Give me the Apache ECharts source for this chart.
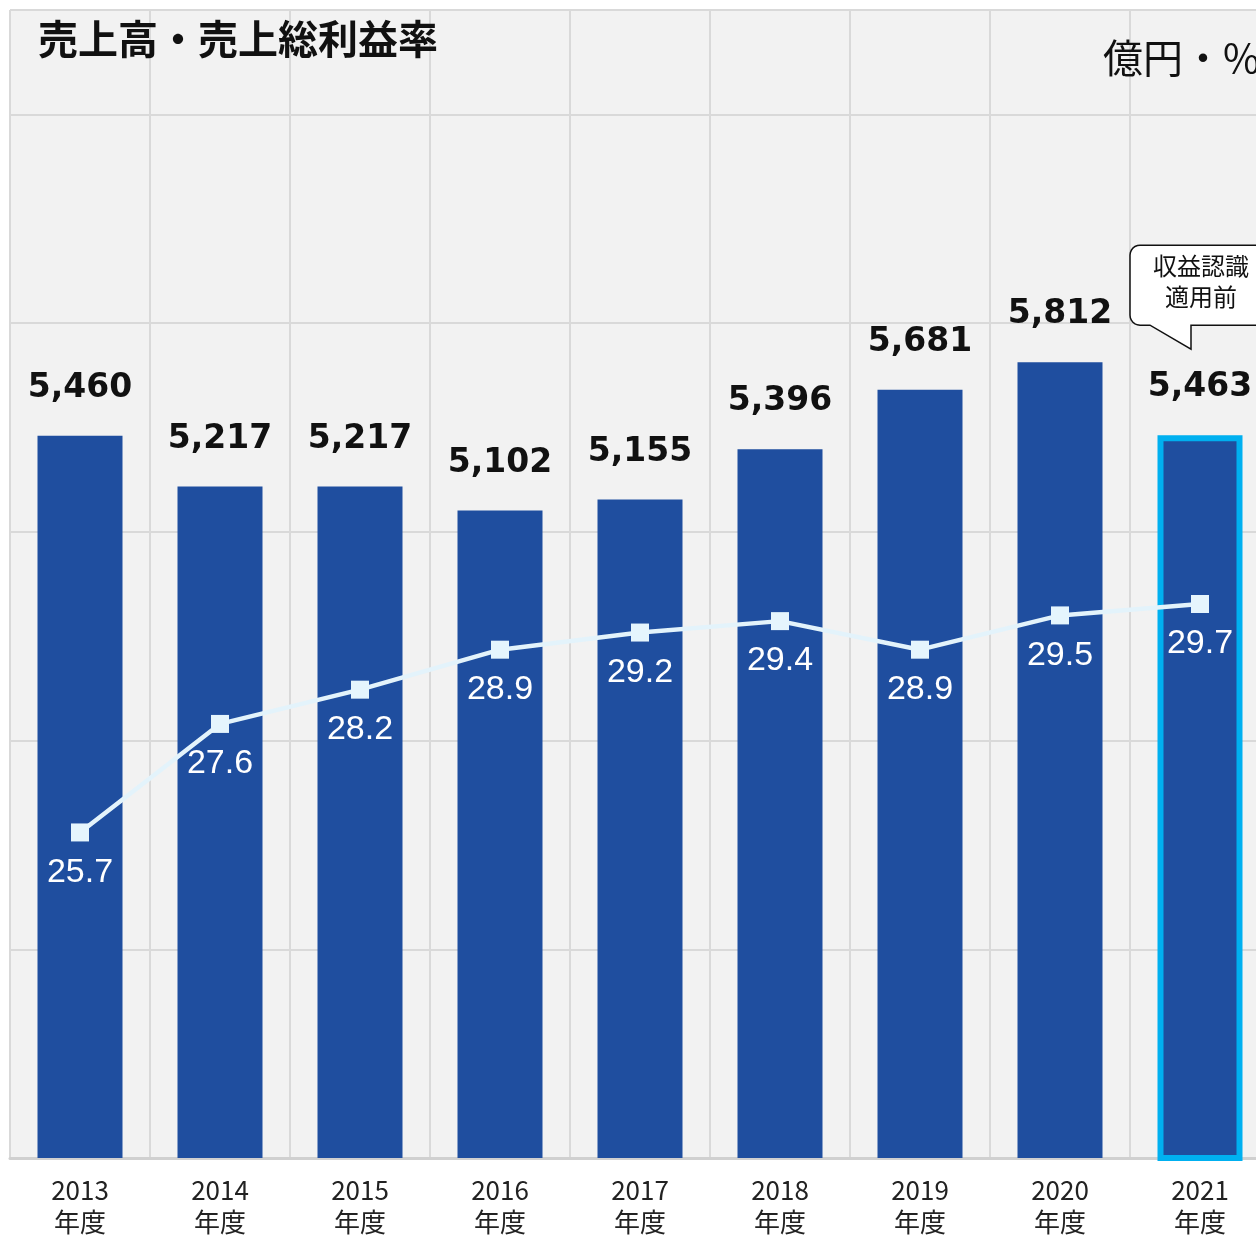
<!DOCTYPE html>
<html><head><meta charset="utf-8">
<script src="https://cdn.jsdelivr.net/npm/echarts@6/dist/echarts.min.js"></script>
<style>html,body{margin:0;padding:0;background:#fff}#c{width:1256px;height:1235px}</style>
</head><body><div id="c"></div>
<script>
const years = ['2013','2014','2015','2016','2017','2018','2019','2020','2021'];
const yearSuffix = '年度';
const sales = [5460, 5217, 5217, 5102, 5155, 5396, 5681, 5812, 5463];
const grossMargin = [25.7, 27.6, 28.2, 28.9, 29.2, 29.4, 28.9, 29.5, 29.7];
const highlightIndex = 8;
const titleText = '売上高・売上総利益率';
const unitText = '億円・%';
const calloutText = '収益認識\n適用前';

const JP = '"Noto Sans CJK JP", "Noto Sans", sans-serif';
const chart = echarts.init(document.getElementById('c'), null, {renderer: 'canvas'});

const option = {
  animation: false,
  grid: {left: 10, top: 10, right: -14, bottom: 77, show: true, backgroundColor: '#f2f2f2', borderWidth: 0,
         outerBoundsMode: 'none', containLabel: false},
  xAxis: {
    type: 'category', data: years, boundaryGap: true,
    axisLine: {lineStyle: {color: '#d0d0d0', width: 3}},
    axisTick: {show: false},
    splitLine: {show: true, interval: 0, lineStyle: {color: '#d9d9d9', width: 2}},
    axisLabel: {
      interval: 0, margin: 16, color: '#222', fontSize: 26, lineHeight: 32, fontFamily: JP,
      formatter: v => v + '\n' + yearSuffix
    }
  },
  yAxis: [
    {type: 'value', min: 2000, max: 7500, interval: 1000,
     axisLabel: {show: false}, axisLine: {show: false}, axisTick: {show: false},
     splitLine: {show: true, lineStyle: {color: '#d9d9d9', width: 2}}},
    {type: 'value', min: 20, max: 40.1, show: false, splitLine: {show: false}}
  ],
  series: [
    {
      type: 'bar', yAxisIndex: 0, barWidth: 85,
      itemStyle: {color: '#1f4e9f'},
      data: sales.map((v, i) => i === highlightIndex
        ? {value: v, itemStyle: {borderColor: '#00b0f0', borderWidth: 6}}
        : v),
      label: {
        show: true, position: 'top', distance: 31,
        color: '#111', fontSize: 33, fontWeight: 'bold', fontFamily: '"DejaVu Sans", Verdana, sans-serif',
        formatter: p => Number(p.value).toLocaleString('en-US')
      },
      z: 2
    },
    {
      type: 'line', yAxisIndex: 1, data: grossMargin,
      symbol: 'rect', symbolSize: 18,
      lineStyle: {color: '#e3f3fb', width: 4.5},
      itemStyle: {color: '#e5f5fd'},
      label: {
        show: true, position: 'bottom', distance: 14,
        color: '#fff', fontSize: 34, fontFamily: '"Liberation Sans", Arial, sans-serif',
        formatter: p => p.value.toFixed(1)
      },
      z: 5
    }
  ]
};
chart.setOption(option);

// annotations positioned from the highlighted bar
const [cx, cy] = chart.convertToPixel({xAxisIndex: 0, yAxisIndex: 0}, [highlightIndex, sales[highlightIndex]]);
const bx0 = cx - 70, bx1 = cx + 80, by0 = cy - 190, by1 = cy - 110, r = 10;
const pts = [];
function arc(ox, oy, a0, a1) {
  for (let k = 0; k <= 6; k++) {
    const a = a0 + (a1 - a0) * k / 6;
    pts.push([ox + r * Math.cos(a), oy + r * Math.sin(a)]);
  }
}
arc(bx0 + r, by0 + r, Math.PI, 1.5 * Math.PI);
arc(bx1 - r, by0 + r, 1.5 * Math.PI, 2 * Math.PI);
arc(bx1 - r, by1 - r, 0, 0.5 * Math.PI);
pts.push([cx - 9, by1]);
pts.push([cx - 9, cy - 86]);
pts.push([cx - 50, by1]);
arc(bx0 + r, by1 - r, 0.5 * Math.PI, Math.PI);

chart.setOption({
  graphic: [
    {type: 'text', left: 38, top: 19, style: {text: titleText, fontSize: 40, fontWeight: 'bold', fontFamily: JP, fill: '#111'}},
    {type: 'text', x: 1103, y: 58, style: {text: unitText, fontSize: 40, fontFamily: JP, fill: '#111', textVerticalAlign: 'middle'}},
    {type: 'polygon', shape: {points: pts}, style: {fill: '#fff', stroke: '#111', lineWidth: 1.5}, z: 10},
    {type: 'text', x: cx + 1, y: cy - 154, style: {text: calloutText, fontSize: 24, lineHeight: 31, fontFamily: JP, fill: '#111', textAlign: 'center', textVerticalAlign: 'middle'}, z: 11}
  ]
});
</script>
</body></html>
